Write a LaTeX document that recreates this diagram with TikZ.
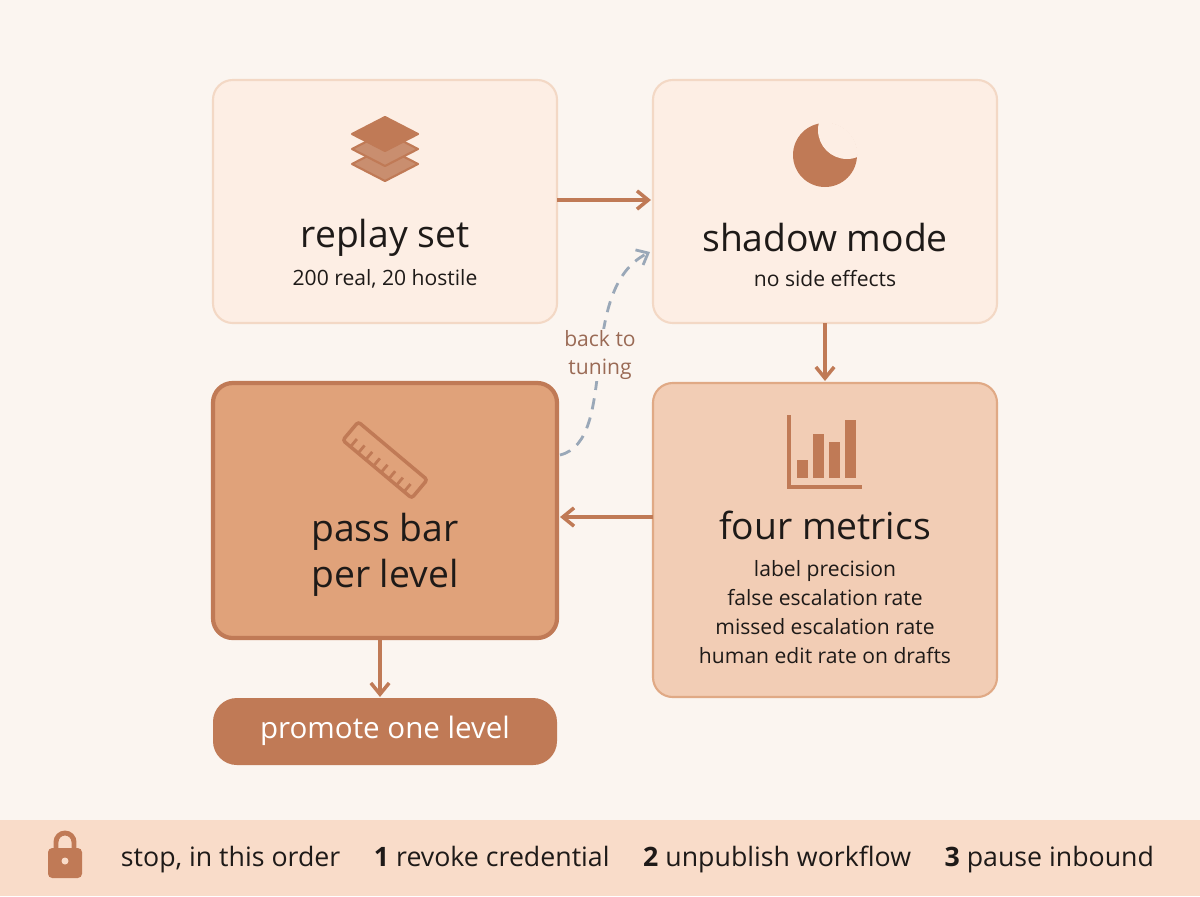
\documentclass[tikz,border=0pt]{standalone}
\usepackage{fontspec}
\setmainfont{Open Sans}
\usetikzlibrary{arrows.meta, positioning, calc}
\definecolor{pagebg}{HTML}{FBF5F0}
\definecolor{lightfill}{HTML}{FDEEE4}
\definecolor{lightline}{HTML}{F3D8C5}
\definecolor{midfill}{HTML}{F2CDB5}
\definecolor{midline}{HTML}{E0A985}
\definecolor{darkfill}{HTML}{E0A27A}
\definecolor{accent}{HTML}{C07A56}
\definecolor{barfill}{HTML}{F9DCC9}
\definecolor{dashgray}{HTML}{9AA8B8}
\definecolor{labelbrown}{HTML}{9A6A55}
\definecolor{inktext}{HTML}{1E1A18}
\tikzset{
  stage/.style={rounded corners=14pt, line width=1.5pt, text=inktext, align=center},
  title/.style={font=\fontsize{26.5}{30}\selectfont, text=inktext},
  sub/.style={font=\fontsize{15}{19}\selectfont, text=inktext, align=center},
  flow/.style={-{Straight Barb[length=8pt,width=13pt]}, line width=2.5pt, accent},
}
\begin{document}
\begin{tikzpicture}[x=0.025cm, y=-0.025cm]
    \useasboundingbox (0,0) rectangle (1200,896);
    \fill[pagebg] (0,0) rectangle (1200,896);

    % Stage boxes
    \draw[stage, fill=lightfill, draw=lightline] (213,80) rectangle (557,323);
    \draw[stage, fill=lightfill, draw=lightline] (653,80) rectangle (997,323);
    \draw[stage, fill=midfill, draw=midline] (653,383) rectangle (997,697);
    \draw[stage, fill=darkfill, draw=accent, line width=3pt] (213,383) rectangle (557,638);
    \fill[accent, rounded corners=17pt] (213,698) rectangle (557,765);

    % Texts
    \node[title] (replayt) at (385,238) {replay set};
    \node[sub] (replays) at (385,279) {200 real, 20 hostile};
    \node[title] (shadowt) at (825,238) {shadow mode};
    \node[sub] (shadows) at (825,279) {no side effects};
    \node[title] (metricst) at (825,525) {four metrics};
    \node[sub, font=\fontsize{15}{20.5}\selectfont] (metricss) at (825,612) {label precision\\false escalation rate\\missed escalation rate\\human edit rate on drafts};
    \node[title, align=center, font=\fontsize{26.5}{33}\selectfont] (passt) at (385,555) {pass bar\\per level};
    \node[font=\fontsize{21}{25}\selectfont, text=white] (promote) at (385,731) {promote one level};

    % Flow arrows
    \coordinate (a1) at (557,200); \coordinate (a2) at (651,200);
    \draw[flow] (a1) -- (a2);
    \coordinate (b1) at (825,323); \coordinate (b2) at (825,381);
    \draw[flow] (b1) -- (b2);
    \coordinate (c1) at (653,517); \coordinate (c2) at (560,517);
    \draw[flow] (c1) -- (c2);
    \coordinate (d1) at (380,640); \coordinate (d2) at (380,697);
    \draw[flow] (d1) -- (d2);

    % Back to tuning
    \coordinate (e1) at (560,455); \coordinate (e2) at (650,252);
    \draw[dashgray, line width=2pt, dash pattern=on 8pt off 6pt, -{Straight Barb[length=7pt,width=12pt]}]
        (e1) .. controls (620,440) and (575,290) .. (e2);
    \node[font=\fontsize{15}{20}\selectfont, text=labelbrown, fill=pagebg, align=center, inner sep=1pt] (back) at (600,355) {back to\\tuning};

    % Icon: layers
    \foreach \dy in {30,15,0} {
        \draw[accent, fill=accent!85!white, line width=1.5pt, line join=round] (385,{117+\dy}) -- (418,{134+\dy}) -- (385,{151+\dy}) -- (352,{134+\dy}) -- cycle;
    }
    \fill[accent] (385,117) -- (418,134) -- (385,151) -- (352,134) -- cycle;

    % Icon: moon
    \fill[accent] (825,155) circle (32);
    \begin{scope}
        \clip (825,155) circle (32.5);
        \fill[lightfill] (847,130) circle (29);
    \end{scope}

    % Icon: ruler
    \begin{scope}[shift={(385,460)}, rotate=-40]
        \draw[accent, line width=2.5pt, rounded corners=2pt] (-45,-12) rectangle (45,12);
        \foreach \k in {-35,-25,...,35} { \draw[accent, line width=2pt] (\k,12) -- (\k,2); }
    \end{scope}

    % Icon: bar chart
    \draw[accent, line width=2.5pt] (789,415) -- (789,487) -- (862,487);
    \fill[accent] (797,460) rectangle (808,478);
    \fill[accent] (813,434) rectangle (824,478);
    \fill[accent] (829,442) rectangle (840,478);
    \fill[accent] (845,420) rectangle (856,478);

    % Bottom bar
    \fill[barfill] (0,820) rectangle (1200,896);
    \draw[accent, line width=3.5pt] (56,849) -- (56,842) arc (180:360:9) -- (74,849);
    \fill[accent, rounded corners=3pt] (48,848) rectangle (82,878);
    \fill[barfill] (65,861) circle (3.5);
    \node[font=\fontsize{19}{22}\selectfont, text=inktext, anchor=west] (stop) at (116,859)
        {stop, in this order\quad\ \textbf{1} revoke credential\quad\ \textbf{2} unpublish workflow\quad\ \textbf{3} pause inbound};
\end{tikzpicture}
\end{document}
